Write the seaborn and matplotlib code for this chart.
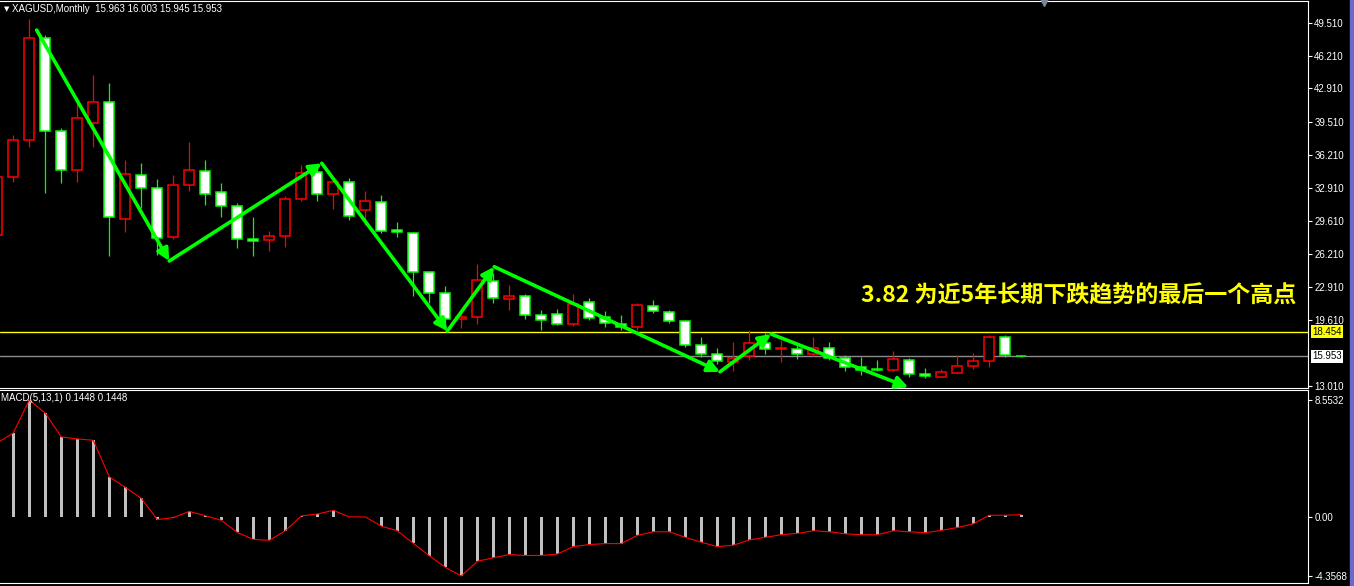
import matplotlib
matplotlib.use("Agg")
import matplotlib.pyplot as plt
import matplotlib.transforms as mtransforms
from matplotlib.patches import Rectangle
import pandas as pd
import seaborn as sns

# monthly XAGUSD bars (bar -1 is cut off by the left edge of the chart)
bar_idx = list(range(-1, 64))
opens = [28.16, 33.99, 37.71, 47.97, 38.62, 34.70, 39.42, 41.53, 29.77, 34.19,
         32.89, 27.96, 33.19, 34.60, 32.48, 31.08, 27.76, 27.66, 28.06, 31.78,
         34.49, 32.28, 33.49, 30.67, 31.48, 28.66, 28.36, 24.44, 22.33, 19.71,
         19.91, 23.54, 21.72, 22.03, 20.12, 20.22, 19.21, 21.42, 19.91, 19.21,
         18.91, 21.02, 20.42, 19.51, 17.10, 16.20, 15.39, 16.00, 17.30, 16.70,
         16.70, 16.20, 16.80, 15.79, 14.89, 14.69, 14.59, 15.59, 14.18, 13.88,
         14.28, 14.99, 15.49, 17.91, 15.963]
highs = [34.50, 38.22, 49.88, 48.30, 38.90, 41.43, 44.25, 43.44, 35.70, 35.40,
         33.79, 34.19, 37.51, 35.70, 33.39, 31.38, 29.97, 28.56, 32.08, 35.20,
         34.90, 33.69, 33.89, 32.59, 32.18, 29.47, 28.46, 24.54, 23.03, 20.62,
         25.24, 24.34, 23.13, 22.23, 20.62, 20.72, 22.23, 21.83, 20.52, 20.12,
         21.32, 21.62, 20.62, 19.61, 17.91, 16.80, 17.40, 18.61, 18.31, 17.60,
         17.10, 17.91, 17.40, 16.10, 15.89, 15.59, 16.50, 15.79, 14.79, 14.69,
         16.10, 16.30, 18.11, 18.11, 16.003]
lows = [27.66, 33.49, 37.01, 32.38, 33.39, 33.49, 37.01, 26.05, 28.46, 30.88,
        26.15, 27.80, 32.59, 31.18, 29.97, 26.85, 26.05, 26.55, 26.95, 31.58,
        31.58, 30.78, 29.67, 29.17, 28.36, 27.96, 22.03, 21.32, 18.61, 18.81,
        19.21, 21.32, 20.62, 19.71, 18.61, 19.11, 19.00, 19.61, 18.91, 18.61,
        18.61, 20.32, 19.31, 16.90, 15.89, 15.19, 14.49, 15.59, 16.20, 15.39,
        15.69, 16.00, 15.59, 14.49, 14.08, 14.49, 14.50, 13.88, 13.78, 13.88,
        14.28, 14.69, 14.89, 15.89, 15.945]
closes = [33.99, 37.71, 47.97, 38.62, 34.70, 39.92, 41.53, 29.97, 34.29, 32.89,
          27.86, 33.19, 34.70, 32.28, 31.08, 27.76, 27.56, 28.06, 31.78, 34.39,
          32.28, 33.49, 30.07, 31.58, 28.56, 28.46, 24.44, 22.33, 19.71, 19.91,
          23.64, 21.83, 22.03, 20.12, 19.61, 19.21, 21.22, 19.81, 19.31, 18.91,
          21.12, 20.52, 19.51, 17.10, 16.20, 15.49, 15.79, 17.30, 16.70, 16.80,
          16.20, 16.80, 15.79, 14.89, 14.59, 14.59, 15.69, 14.18, 13.98, 14.39,
          14.99, 15.49, 17.91, 16.10, 15.953]
macd = [5.41, 6.14, 8.5532, 7.59, 5.85, 5.70, 5.60, 2.92, 2.15, 1.35,
        -0.22, -0.07, 0.38, 0.07, -0.27, -1.16, -1.67, -1.74, -1.04, 0.05,
        0.19, 0.46, -0.02, -0.02, -0.70, -1.04, -1.96, -2.87, -3.72, -4.3568,
        -3.28, -3.02, -2.78, -2.85, -2.85, -2.75, -2.20, -2.05, -1.98, -1.98,
        -1.38, -1.11, -1.11, -1.52, -1.88, -2.20, -2.10, -1.71, -1.52, -1.33,
        -1.23, -1.04, -1.11, -1.26, -1.33, -1.33, -1.04, -1.11, -1.18, -1.01,
        -0.80, -0.53, 0.10, 0.10, 0.1448]

# hand-drawn zigzag trend arrows (bar index, price)
zz_idx = [1.46, 9.75, 19.28, 27.13, 30.06, 44.17, 47.36, 55.94]
zz_price = [48.77, 25.55, 35.37, 18.51, 24.97, 14.41, 18.21, 12.85]

price_ticks = [49.51, 46.21, 42.91, 39.51, 36.21, 32.91, 29.61, 26.21, 22.91, 19.61, 13.01]
macd_ticks = [8.5532, 0.0, -4.3568]
level_line = 18.454
bid_price = 15.953
note = "3.82 为近5年长期下跌趋势的最后一个高点"
header = "XAGUSD,Monthly  15.963 16.003 15.945 15.953"
macd_label = "MACD(5,13,1) 0.1448 0.1448"

sns.set_theme(style="dark", rc={"axes.facecolor": "black", "figure.facecolor": "black",
                                "axes.grid": False})
plt.rcParams["font.family"] = ["Liberation Sans", "DejaVu Sans"]

df = pd.DataFrame({"idx": bar_idx, "open": opens, "high": highs, "low": lows,
                   "close": closes, "macd": macd})
df["up"] = df["close"] > df["open"]

W, H = 1354, 586
fig = plt.figure(figsize=(W / 100, H / 100), dpi=100)
ax1 = fig.add_axes([0, 1 - 388 / H, 1308 / W, 387.3 / H])
ax2 = fig.add_axes([0, 1 - 583 / H, 1308 / W, 193 / H])

GREEN = "#00FF00"
for up, grp in df.groupby("up"):
    wick = "#FF0000" if up else GREEN
    face = "black" if up else "white"
    ax1.vlines(grp["idx"], grp["low"], grp["high"], color=wick, lw=0.9, zorder=2)
    body_lo = grp[["open", "close"]].min(axis=1)
    body_h = (grp["close"] - grp["open"]).abs()
    ax1.bar(grp["idx"], body_h, bottom=body_lo, width=0.62, facecolor=face,
            edgecolor=wick, linewidth=1.1, zorder=3)

ax1.axhline(level_line, color="#FFFF00", lw=1, zorder=1)
ax1.axhline(bid_price, color="#8C8C8C", lw=1, zorder=1)

for k in range(len(zz_idx) - 1):
    ax1.annotate("", xy=(zz_idx[k + 1], zz_price[k + 1]), xytext=(zz_idx[k], zz_price[k]),
                 arrowprops=dict(arrowstyle="-|>,head_length=0.8,head_width=0.4",
                                 color=GREEN, lw=2.6, shrinkA=0, shrinkB=0,
                                 mutation_scale=9), zorder=5)

ax1.text(53.0, 22.03, note, color="#FFFF00", fontsize=16.6, fontweight="bold",
         ha="left", va="center", family=["Noto Sans CJK SC", "DejaVu Sans"], zorder=6)

xlim = (-0.83, 80.92)
ax1.set_xlim(xlim)
ax1.set_ylim(12.78, 51.72)
ax1.set_xticks([])
ax1.yaxis.tick_right()
ax1.set_yticks(price_ticks)
ax1.set_yticklabels([f"{v:.3f}" for v in price_ticks])

trans = mtransforms.blended_transform_factory(ax1.transAxes, ax1.transData)
ax1.text(1.0032, level_line, f"{level_line:.3f}", transform=trans, color="black",
         fontsize=7, va="center", ha="left",
         bbox=dict(facecolor="#FFFF00", edgecolor="none", pad=1.2))
ax1.text(1.0032, bid_price, f"{bid_price:.3f}", transform=trans, color="black",
         fontsize=7, va="center", ha="left",
         bbox=dict(facecolor="white", edgecolor="none", pad=1.2))

# MACD panel
ax2.bar(df["idx"], df["macd"], width=0.19, color="#C0C0C0", edgecolor="none",
        linewidth=0, zorder=2)
sns.lineplot(data=df, x="idx", y="macd", ax=ax2, color="#FF0000", lw=0.8, zorder=3)
ax2.set_xlim(xlim)
ax2.set_ylim(-4.87, 9.29)
ax2.set_xlabel("")
ax2.set_ylabel("")
ax2.yaxis.tick_right()
ax2.set_yticks(macd_ticks)
ax2.set_yticklabels(["8.5532", "0.00", "-4.3568"])
ax2.set_xticks(range(3, 81, 4))
ax2.set_xticklabels([])

for ax in (ax1, ax2):
    ax.set_facecolor("black")
    ax.grid(False)
    ax.tick_params(axis="y", colors="white", labelcolor="white", labelsize=7,
                   length=3, width=0.8, pad=1.5, direction="out")
    ax.tick_params(axis="x", colors="white", length=3, width=0.8, direction="out")
    ax.spines["left"].set_visible(False)
    for side in ("top", "right", "bottom"):
        ax.spines[side].set_visible(True)
        ax.spines[side].set_color("white")
        ax.spines[side].set_linewidth(0.8)

ax1.text(0.003, 0.978, "▼", transform=ax1.transAxes, color="white", fontsize=5,
         ha="left", va="center", family=["DejaVu Sans"])
ax1.text(0.009, 0.978, header, transform=ax1.transAxes, color="white", fontsize=7,
         ha="left", va="center")
ax1.plot([1044 / 1308], [0.997], marker="v", color="#778899", ms=6,
         transform=ax1.transAxes, clip_on=False, zorder=7)
ax2.text(0.0008, 0.96, macd_label, transform=ax2.transAxes, color="white", fontsize=7,
         ha="left", va="center")

fig.patches.append(Rectangle((1350 / W, 0), 4 / W, 1, transform=fig.transFigure,
                             color="#6A6ACD", zorder=0))

fig.savefig("out.png", dpi=100, facecolor="black")
